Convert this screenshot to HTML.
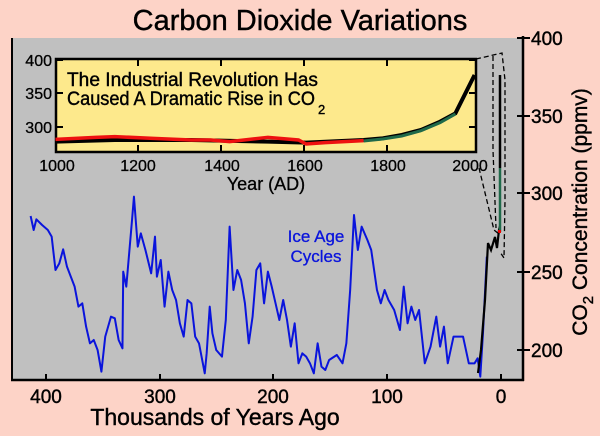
<!DOCTYPE html>
<html><head><meta charset="utf-8"><style>
html,body{margin:0;padding:0;background:#fdd3c7;}
svg{display:block;font-family:"Liberation Sans",Arial,sans-serif;}
</style></head><body>
<svg width="600" height="436" viewBox="0 0 600 436" xmlns="http://www.w3.org/2000/svg">
<rect width="600" height="436" fill="#fdd3c7"/>
<text x="300" y="30" font-size="29" text-anchor="middle" fill="#000" stroke="#000" stroke-width="0.4">Carbon Dioxide Variations</text>
<rect x="12" y="38" width="511" height="342" fill="#c0c0c0"/>
<line x1="12" y1="38" x2="12" y2="380" stroke="#000" stroke-width="2"/>
<line x1="11" y1="380" x2="524" y2="380" stroke="#000" stroke-width="2.5"/>
<line x1="523" y1="36" x2="523" y2="381" stroke="#000" stroke-width="2.5"/>
<g stroke="#000" stroke-width="2">
<line x1="46" y1="380" x2="46" y2="374"/><line x1="160" y1="380" x2="160" y2="374"/><line x1="273" y1="380" x2="273" y2="374"/><line x1="387" y1="380" x2="387" y2="374"/><line x1="501" y1="380" x2="501" y2="374"/>
<line x1="517" y1="38" x2="530" y2="38"/><line x1="517" y1="116" x2="530" y2="116"/><line x1="517" y1="193" x2="530" y2="193"/><line x1="517" y1="272" x2="530" y2="272"/><line x1="517" y1="350" x2="530" y2="350"/>
</g>
<g font-size="19" fill="#000" stroke="#000" stroke-width="0.4">
<text x="46" y="403" text-anchor="middle">400</text><text x="160" y="403" text-anchor="middle">300</text><text x="273" y="403" text-anchor="middle">200</text><text x="387" y="403" text-anchor="middle">100</text><text x="501" y="403" text-anchor="middle">0</text>
<text x="531" y="45">400</text><text x="531" y="123">350</text><text x="531" y="200">300</text><text x="531" y="279">250</text><text x="531" y="357">200</text>
</g>
<text x="215" y="425" font-size="23" text-anchor="middle" stroke="#000" stroke-width="0.4">Thousands of Years Ago</text>
<text transform="translate(587,212) rotate(-90)" font-size="21" text-anchor="middle" stroke="#000" stroke-width="0.4">CO<tspan font-size="15" dy="6">2</tspan><tspan dy="-6"> Concentration (ppmv)</tspan></text>

<g transform="translate(0,190) scale(0.3827,0.3333)">
<polyline fill="none" stroke="#0a14dc" stroke-width="2" vector-effect="non-scaling-stroke" stroke-linejoin="round" points="80,78 88,120 95,88 110,105 125,120 135,140 145,240 155,220 165,178 175,230 185,260 195,290 205,350 215,340 225,410 235,460 245,450 255,480 265,545 275,440 290,380 300,385 310,450 320,475 322,245 330,290 345,90 350,20 360,170 368,130 380,180 395,250 405,140 410,260 420,210 430,350 440,245 450,300 460,330 470,400 480,440 490,330 500,340 510,440 520,460 530,520 535,550 540,490 548,350 555,430 565,480 580,500 590,390 600,110 610,300 620,240 630,270 640,340 650,460 660,380 670,240 680,220 690,340 700,245 710,290 720,340 730,390 740,330 750,390 760,470 770,400 780,520 790,490 800,500 810,520 820,550 830,460 840,530 850,540 860,510 880,495 895,520 905,460 915,300 925,75 935,180 945,110 960,150 970,180 985,300 995,340 1005,300 1015,330 1030,360 1045,420 1055,290 1065,400 1075,350 1085,390 1095,360 1110,520 1125,470 1140,380 1150,470 1160,410 1170,520 1185,440 1210,440 1225,520 1240,520 1248,505 1255,560 1262,430 1272,200"/>
</g>
<polyline fill="none" stroke="#000" stroke-width="2.2" points="478,373 481,350 485,300 488,243 491,250 495,237 497,248 499,230 500,226"/>
<line x1="500" y1="75" x2="500" y2="168" stroke="#000" stroke-width="2.5"/>
<line x1="500" y1="168" x2="500" y2="232" stroke="#1f6a4a" stroke-width="2.5"/>
<rect x="498" y="230" width="3" height="3" fill="#e00"/>
<g fill="none" stroke="#000" stroke-width="1.3" stroke-dasharray="5,3">
<polyline points="476,59 502,53 505,80 505,200 504,258 500,252"/>
<polyline points="479,168 494,230 499,234"/>
<polyline points="493,56 493,150 496,228"/>
</g>

<rect x="56" y="59" width="420" height="93" fill="#fde98c" stroke="#000" stroke-width="2.5"/>
<g stroke="#000" stroke-width="2">
<line x1="56" y1="60" x2="63" y2="60"/><line x1="56" y1="93" x2="63" y2="93"/><line x1="56" y1="127" x2="63" y2="127"/>
<line x1="476" y1="60" x2="469" y2="60"/><line x1="476" y1="93" x2="469" y2="93"/><line x1="476" y1="127" x2="469" y2="127"/>
<line x1="138" y1="59" x2="138" y2="66"/><line x1="221" y1="59" x2="221" y2="66"/><line x1="304" y1="59" x2="304" y2="66"/><line x1="387" y1="59" x2="387" y2="66"/>
<line x1="138" y1="152" x2="138" y2="145"/><line x1="221" y1="152" x2="221" y2="145"/><line x1="304" y1="152" x2="304" y2="145"/><line x1="387" y1="152" x2="387" y2="145"/>
</g>
<g font-size="16" fill="#000" stroke="#000" stroke-width="0.3">
<text x="52" y="66" text-anchor="end">400</text><text x="52" y="99" text-anchor="end">350</text><text x="52" y="133" text-anchor="end">300</text>
<text x="57" y="171" text-anchor="middle">1000</text><text x="138" y="171" text-anchor="middle">1200</text><text x="222" y="171" text-anchor="middle">1400</text><text x="305" y="171" text-anchor="middle">1600</text><text x="388" y="171" text-anchor="middle">1800</text><text x="470" y="171" text-anchor="middle">2000</text>
</g>
<text x="266" y="190" font-size="18" text-anchor="middle" stroke="#000" stroke-width="0.3">Year (AD)</text>
<g stroke="#000" stroke-width="0.4">
<text x="67" y="86" font-size="19" textLength="251" lengthAdjust="spacingAndGlyphs">The Industrial Revolution Has</text>
<text x="67" y="105" font-size="19" textLength="248" lengthAdjust="spacingAndGlyphs">Caused A Dramatic Rise in CO</text>
<text x="318" y="114" font-size="13">2</text>
</g>
<g transform="translate(0,30) scale(0.3827,0.3333)">
<polyline fill="none" stroke="#000" stroke-width="4" vector-effect="non-scaling-stroke" points="145,335 300,330 500,330 700,335 800,338 950,330 1000,325 1050,315 1100,300 1150,275 1190,250 1240,135"/>
<polyline fill="none" stroke="#1f6a4a" stroke-width="3" vector-effect="non-scaling-stroke" points="950,333 1000,327 1050,318 1100,302 1150,278 1190,252"/>
<polyline fill="none" stroke="#ee1010" stroke-width="3.5" vector-effect="non-scaling-stroke" points="145,328 250,322 300,320 400,325 500,330 550,330 600,335 700,322 780,330 800,342 850,338 950,332"/>
</g>

<g stroke="#0a14dc" stroke-width="0.3">
<text x="316" y="242" font-size="17" fill="#0a14dc" text-anchor="middle">Ice Age</text>
<text x="316" y="262" font-size="17" fill="#0a14dc" text-anchor="middle">Cycles</text>
</g>
</svg>
</body></html>
